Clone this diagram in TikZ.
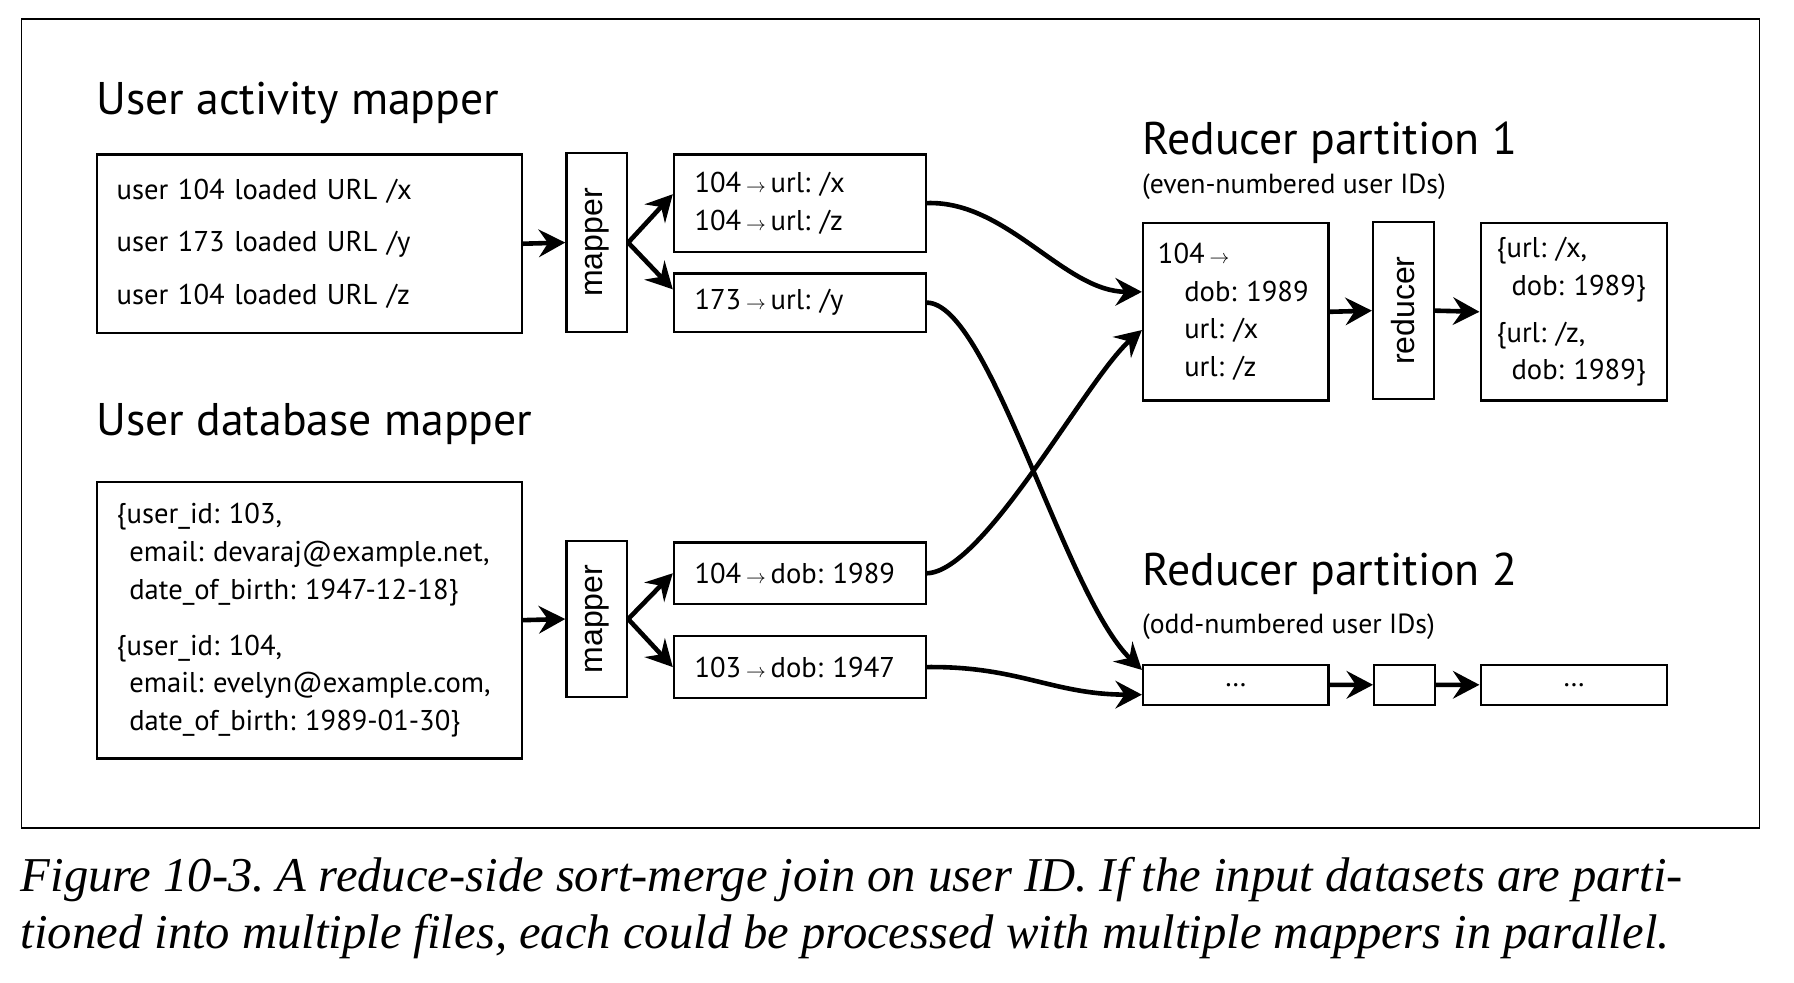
\documentclass[tikz,border=0pt]{standalone}
\usepackage{fontspec}
\setmainfont{PT Sans}
\newfontfamily\boxfont{Liberation Sans}
\newfontfamily\capfont{Liberation Serif}
\usetikzlibrary{arrows.meta}
\newcommand{\ar}{\,{\fontsize{18}{18}\selectfont$\rightarrow$}\,}
\frenchspacing
\begin{document}
\begin{tikzpicture}[x=1pt,y=-1pt,
  box/.style={draw, line width=2pt, inner sep=0pt, anchor=north west, align=left},
  body/.style={font=\fontsize{25}{33}\selectfont},
  head/.style={anchor=base west, inner sep=0pt, font=\fontsize{40}{40}\selectfont},
  sub/.style={anchor=base west, inner sep=0pt, font=\fontsize{24.2}{24.2}\selectfont},
  rot/.style={draw, line width=2pt, rotate=90, inner sep=0pt, font=\boxfont\fontsize{28}{28}\selectfont},
  conn/.style={line width=4pt, -{Stealth[length=23pt,width=24pt,inset=8pt]}},
]
\useasboundingbox (0,0) rectangle (1560,854);
\begin{scope}[scale=0.995, transform shape]
\node[draw, line width=1.5pt, inner sep=0pt, anchor=north west, minimum width=1519, minimum height=707] (frame) at (18,16) {};

% headings
\node[head] (h1) at (84,100) {User activity mapper};
\node[head] (h2) at (84,381) {User database mapper};
\node[head] (h3) at (998,135) {Reducer partition 1};
\node[sub]  (s3) at (998,169.5) {(even-numbered user IDs)};
\node[head] (h4) at (998,511.5) {Reducer partition 2};
\node[sub]  (s4) at (998,554) {(odd-numbered user IDs)};

% user activity
\node[box, minimum width=371, minimum height=156, text width=337pt, inner xsep=17pt, font=\fontsize{25}{46}\selectfont] (A1) at (84,134)
  {user 104 loaded URL /x\\user 173 loaded URL /y\\user 104 loaded URL /z};
\node[rot, minimum width=156, minimum height=53] (M1) at (521.5,212) {mapper};
\node[box, body, minimum width=220, minimum height=85, text width=184pt, inner xsep=18pt] (B1) at (588,134)
  {104\ar url: /x\\104\ar url: /z};
\node[box, body, minimum width=220, minimum height=51, text width=184pt, inner xsep=18pt] (B2) at (588,238)
  {173\ar url: /y};

% user database
\node[box, body, minimum width=371, minimum height=242, text width=337pt, inner xsep=17pt] (A2) at (84,420)
  {\{user\_id: 103,\\\hspace*{11pt}email: devaraj@example.net,\\\hspace*{11pt}date\_of\_birth: 1947-12-18\}\\[16pt]
   \{user\_id: 104,\\\hspace*{11pt}email: evelyn@example.com,\\\hspace*{11pt}date\_of\_birth: 1989-01-30\}};
\node[rot, minimum width=136, minimum height=53] (M2) at (521.5,541) {mapper};
\node[box, body, minimum width=220, minimum height=54, text width=184pt, inner xsep=18pt] (C1) at (588,473)
  {104\ar dob: 1989};
\node[box, body, minimum width=220, minimum height=54, text width=184pt, inner xsep=18pt] (C2) at (588,555)
  {103\ar dob: 1947};

% reducer partition 1
\node[box, body, minimum width=162, minimum height=155, text width=136pt, inner xsep=13pt] (R1) at (998,194)
  {104\ar\\\hspace*{23pt}dob: 1989\\\hspace*{23pt}url: /x\\\hspace*{23pt}url: /z};
\node[rot, minimum width=155, minimum height=53] (RD1) at (1226.5,271.5) {reducer};
\node[box, body, minimum width=163, minimum height=155, text width=135pt, inner xsep=14pt] (R1o) at (1293,194)
  {\{url: /x,\\\hspace*{13pt}dob: 1989\}\\[8pt]\{url: /z,\\\hspace*{13pt}dob: 1989\}};

% reducer partition 2
\node[box, body, minimum width=162, minimum height=35, align=center] (R2) at (998,580) {\raisebox{-4pt}{\dots}};
\node[box, minimum width=53, minimum height=35] (RD2) at (1200,580) {};
\node[box, body, minimum width=163, minimum height=35, align=center] (R2o) at (1293,580) {\raisebox{-4pt}{\dots}};

% connectors
\draw[conn] (A1.east) -- (M1.north);
\draw[conn] (M1.south) -- (B1.176.6);
\draw[conn] (M1.south) -- (B2.174);
\draw[conn] (A2.east) -- (M2.north);
\draw[conn] (M2.south) -- (C1.west);
\draw[conn] (M2.south) -- (C2.west);

\draw[conn] (B1.east) .. controls (880,175) and (930,255) .. (R1.168.5);
\draw[conn] (B2.east) .. controls (865,265) and (930,520) .. (R2.171.2);
\draw[conn] (C1.east) .. controls (860,500) and (950,330) .. (R1.191.5);
\draw[conn] (C2.east) .. controls (890,582) and (920,607) .. (R2.186.7);

\draw[conn] (R1.east) -- (RD1.north);
\draw[conn] (RD1.south) -- (R1o.west);
\draw[conn] (R2.east) -- (RD2.west);
\draw[conn] (RD2.east) -- (R2o.west);

% caption
\node[anchor=base west, inner sep=0pt, align=left, font=\capfont\itshape\fontsize{42.5}{50}\selectfont] (cap) at (18,829)
  {Figure 10-3. A reduce-side sort-merge join on user ID. If the input datasets are parti-\\
   tioned into multiple files, each could be processed with multiple mappers in parallel.};
\end{scope}
\end{tikzpicture}
\end{document}
